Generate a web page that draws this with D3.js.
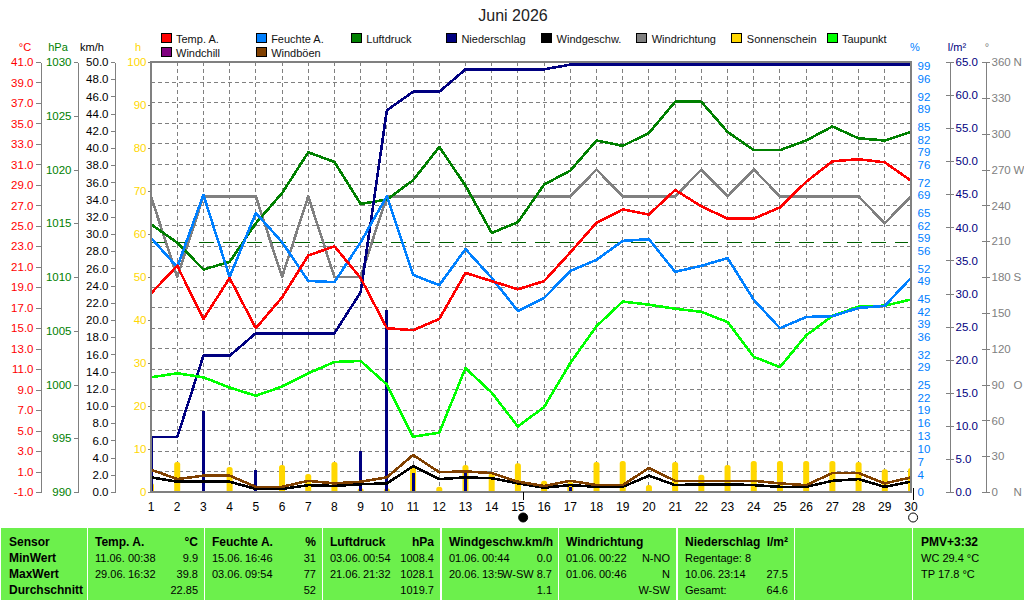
<!DOCTYPE html>
<html>
<head>
<meta charset="utf-8">
<title>Juni 2026</title>
<script src="https://cdn.jsdelivr.net/npm/d3@7"></script>
<style>
  body { margin: 0; background: #fff; }
  svg { display: block; }
  text { font-family: "Liberation Sans", Arial, sans-serif; font-size: 11px; white-space: pre; }
</style>
</head>
<body>
<script>
var w = 1024, h = 600;

// values, one per day
var days = d3.range(1, 31);
var temp = [18.4, 21.1, 15.9, 19.9, 15.0, 18.0, 22.1, 23.0, 19.9, 15.0, 14.8, 15.9, 20.4, 19.6, 18.8, 19.6, 22.4, 25.3, 26.6, 26.1, 28.5, 26.9, 25.7, 25.7, 26.8, 29.3, 31.3, 31.5, 31.2, 29.4];
var dewpoint = [10.2, 10.6, 10.2, 9.2, 8.4, 9.3, 10.6, 11.7, 11.8, 9.5, 4.4, 4.8, 11.1, 8.7, 5.4, 7.3, 11.6, 15.2, 17.6, 17.3, 16.9, 16.6, 15.6, 12.2, 11.2, 14.3, 16.2, 17.1, 17.2, 17.8];
var humidity = [59.1, 52.3, 69.1, 50.0, 64.9, 58.1, 49.1, 48.8, 58.1, 68.8, 50.5, 48.1, 56.5, 49.8, 42.1, 45.1, 51.4, 54.0, 58.4, 58.8, 51.2, 52.6, 54.4, 44.7, 38.1, 40.7, 40.9, 42.8, 43.3, 49.8];
var pressure = [1014.9, 1013.2, 1010.7, 1011.4, 1015.0, 1017.8, 1021.6, 1020.7, 1016.8, 1017.2, 1019.0, 1022.1, 1018.5, 1014.1, 1015.1, 1018.6, 1019.9, 1022.7, 1022.2, 1023.4, 1026.3, 1026.3, 1023.5, 1021.8, 1021.8, 1022.7, 1024.0, 1022.9, 1022.7, 1023.5];
var rainTotal = [8.3, 8.3, 20.6, 20.6, 24.0, 24.0, 24.0, 24.0, 30.2, 57.7, 60.5, 60.5, 63.9, 63.9, 63.9, 63.9, 64.6, 64.6, 64.6, 64.6, 64.6, 64.6, 64.6, 64.6, 64.6, 64.6, 64.6, 64.6, 64.6, 64.6];
var rainDay = [8.3, 0, 12.3, 0, 3.4, 0, 0, 0, 6.2, 27.5, 2.8, 0, 3.4, 0, 0, 0, 0.7, 0, 0, 0, 0, 0, 0, 0, 0, 0, 0, 0, 0, 0];
var wind = [1.7, 1.2, 1.2, 1.2, 0.35, 0.35, 0.8, 0.7, 0.9, 1.0, 3.0, 1.5, 1.7, 1.6, 1.0, 0.5, 0.8, 0.6, 0.6, 1.9, 0.8, 0.9, 0.9, 0.8, 0.6, 0.6, 1.3, 1.5, 0.6, 1.2];
var gust = [2.6, 1.5, 1.9, 1.9, 0.6, 0.6, 1.3, 1.0, 1.2, 1.7, 4.3, 2.3, 2.4, 2.2, 1.2, 0.7, 1.3, 0.8, 0.8, 2.8, 1.3, 1.3, 1.3, 1.3, 1.0, 0.8, 2.2, 2.2, 1.0, 1.7];
var direction = [247.5, 180, 247.5, 247.5, 247.5, 180, 247.5, 180, 180, 247.5, 247.5, 247.5, 247.5, 247.5, 247.5, 247.5, 247.5, 270, 247.5, 247.5, 247.5, 270, 247.5, 270, 247.5, 247.5, 247.5, 247.5, 225, 247.5];
var sun = [2.1, 7.0, 0, 5.8, 0, 6.3, 4.2, 7.0, 0.9, 0.9, 5.8, 1.2, 6.3, 4.4, 6.7, 2.6, 2.3, 7.0, 7.2, 1.6, 7.0, 4.0, 6.3, 7.2, 7.2, 7.2, 7.2, 7.0, 5.3, 5.6];
var normalPressure = 1013.25;
var moonDays = [15.2, 30.08];

// tick labels
var tempTicks = d3.range(-1, 42, 2);
var pressureTicks = [990, 995, 1000, 1005, 1010, 1015, 1020, 1025, 1030];
var windTicks = d3.range(0, 51, 2);
var sunTicks = d3.range(0, 101, 10);
var humidityTicks = [99, 96, 92, 89, 85, 82, 79, 76, 72, 69, 65, 62, 59, 56, 52, 49, 45, 42, 39, 36, 32, 29, 25, 22, 19, 16, 13, 10, 7, 4, 0];
var rainTicks = d3.range(0, 66, 5);
var dirTicks = d3.range(0, 361, 30);
var compass = { 360: "N", 270: "W", 180: "S", 90: "O", 0: "N" };

// legend
var legendNames = ["Temp. A.", "Feuchte A.", "Luftdruck", "Niederschlag", "Windgeschw.", "Windrichtung", "Sonnenschein", "Taupunkt", "Windchill", "Windböen"];
var legendColors = ["#ff0000", "#0080ff", "#008000", "#000080", "#000000", "#808080", "#ffd700", "#00ff00", "#800080", "#804000"];

// footer panels
var sensorRows = ["Sensor", "MinWert", "MaxWert", "Durchschnitt"];
var statTitles = ["Temp. A.", "Feuchte A.", "Luftdruck", "Windgeschw.km/h", "Windrichtung"];
var statUnits = ["°C", "%", "hPa", "", ""];
var statMin = [["11.06.", "00:38", "9.9"], ["15.06.", "16:46", "31"], ["03.06.", "00:54", "1008.4"], ["01.06.", "00:44", "0.0"], ["01.06.", "00:22", "N-NO"]];
var statMax = [["29.06.", "16:32", "39.8"], ["03.06.", "09:54", "77"], ["21.06.", "21:32", "1028.1"], ["20.06.", "13:5", "W-SW 8.7"], ["01.06.", "00:46", "N"]];
var statAvg = ["22.85", "52", "1019.7", "1.1", "W-SW"];

var left = 151, right = 911, top_ = 62, bottom = 492;

var svg = d3.select("body").append("svg").attr("width", w).attr("height", h);

var x = d3.scaleLinear().domain([1, 30]).range([left, right]);
function yScale(lo, hi) { return d3.scaleLinear().domain([lo, hi]).range([bottom, top_]); }
var yTemp = yScale(-1, 41), yPress = yScale(990, 1030), yWind = yScale(0, 50), yPct = yScale(0, 100), yRain = yScale(0, 65), yDir = yScale(0, 360);

svg.append("defs").append("clipPath").attr("id", "plot").append("rect")
    .attr("x", left).attr("y", top_).attr("width", right - left).attr("height", bottom - top_);

// title
svg.append("text").attr("x", 513).attr("y", 21).attr("text-anchor", "middle").style("font-size", "16px").attr("fill", "#222").text("Juni 2026");

// grid, one horizontal line per temperature tick
var grid = svg.append("g").attr("stroke", "#808080").attr("stroke-dasharray", "4,3").attr("shape-rendering", "crispEdges");
grid.selectAll("line.h").data(tempTicks).enter().append("line").attr("class", "h")
    .attr("x1", left).attr("x2", right)
    .attr("y1", function (d) { return yTemp(d); }).attr("y2", function (d) { return yTemp(d); });
grid.selectAll("line.v").data(days).enter().append("line").attr("class", "v")
    .attr("y1", top_).attr("y2", bottom)
    .attr("x1", function (d) { return x(d); }).attr("x2", function (d) { return x(d); });

var plot = svg.append("g").attr("clip-path", "url(#plot)");

plot.append("line").attr("x1", left).attr("x2", right - 3)
    .attr("y1", yPress(normalPressure)).attr("y2", yPress(normalPressure))
    .attr("stroke", "#006000").attr("stroke-dasharray", "15,9").attr("shape-rendering", "crispEdges");

// sunshine bars
plot.selectAll("rect.sun").data(sun).enter().append("rect").attr("class", "sun")
    .attr("x", function (d, i) { return x(days[i]) - 3; })
    .attr("y", function (d) { return yPct(d); })
    .attr("width", 6)
    .attr("height", function (d) { return d > 0 ? yPct(0) - yPct(d) + 4 : 0; })
    .attr("rx", 2.5)
    .attr("fill", "#ffd700");

// daily rain bars
plot.selectAll("rect.rain").data(rainDay).enter().append("rect").attr("class", "rain")
    .attr("x", function (d, i) { return x(days[i]) - 1.5; })
    .attr("y", function (d) { return yRain(d); })
    .attr("width", 3)
    .attr("height", function (d) { return yRain(0) - yRain(d); })
    .attr("fill", "#000080")
    .attr("shape-rendering", "crispEdges");

function drawLine(values, yS, color) {
    var line = d3.line().x(function (d, i) { return x(days[i]); }).y(function (d) { return yS(d); });
    plot.append("path").datum(values).attr("d", line)
        .attr("fill", "none").attr("stroke", color).attr("stroke-width", 2.6)
        .attr("stroke-linejoin", "round").attr("shape-rendering", "crispEdges");
}
drawLine(direction, yDir, "#808080");
drawLine(wind, yWind, "#000000");
drawLine(gust, yWind, "#804000");
drawLine(pressure, yPress, "#008000");
drawLine(rainTotal, yRain, "#000080");
drawLine(dewpoint, yTemp, "#00ff00");
drawLine(humidity, yPct, "#0080ff");
drawLine(temp, yTemp, "#ff0000");

// plot frame
svg.append("rect").attr("x", left).attr("y", top_).attr("width", right - left).attr("height", bottom - top_)
    .attr("fill", "none").attr("stroke", "#808080").attr("stroke-width", 2).attr("shape-rendering", "crispEdges");

function drawAxis(axis, xPos, color, lineColor) {
    var g = svg.append("g").attr("transform", "translate(" + xPos + ",0)").call(axis);
    g.selectAll("text").attr("fill", color).style("font-size", "11.5px");
    g.selectAll("line,path").attr("stroke", lineColor).attr("shape-rendering", "crispEdges");
    return g;
}
// plain hyphen on negative labels, like the original
var f1 = function (d) { return d.toFixed(1); };
drawAxis(d3.axisLeft(yTemp).tickValues(tempTicks).tickFormat(f1).tickSize(5).tickSizeOuter(0).tickPadding(2), 40.5, "#ff0000", "#808080");
drawAxis(d3.axisLeft(yPress).tickValues(pressureTicks).tickFormat(d3.format("d")).tickSize(4).tickSizeOuter(0).tickPadding(2), 77.5, "#008000", "#808080");
drawAxis(d3.axisLeft(yWind).tickValues(windTicks).tickFormat(f1).tickSize(4).tickSizeOuter(0).tickPadding(2), 114.5, "#000000", "#808080");

var sunAxis = drawAxis(d3.axisLeft(yPct).tickValues(sunTicks).tickFormat(d3.format("d")).tickSize(3).tickSizeOuter(0).tickPadding(1), 150.5, "#ffd700", "#808080");
sunAxis.select("path").remove();

var pctAxis = drawAxis(d3.axisRight(yPct).tickValues(humidityTicks).tickFormat(d3.format("d")).tickSize(0).tickPadding(6), 911.5, "#0080ff", "#808080");
pctAxis.select("path").remove();

var rainAxis = drawAxis(d3.axisRight(yRain).tickValues(rainTicks).tickFormat(f1).tickSize(4).tickSizeOuter(0).tickPadding(2), 949.5, "#000080", "#808080");
rainAxis.selectAll(".tick line").attr("x1", -4);

var dirAxis = drawAxis(d3.axisRight(yDir).tickValues(dirTicks).tickFormat(d3.format("d")).tickSize(4).tickSizeOuter(0).tickPadding(2), 985.5, "#808080", "#808080");
dirAxis.selectAll(".tick line").attr("x1", -4);
dirAxis.selectAll(".tick").filter(function (d) { return compass[d]; }).append("text")
    .attr("x", 28).attr("dy", "0.32em").attr("fill", "#808080").style("font-size", "11.5px")
    .text(function (d) { return compass[d]; });

// unit labels above the axes
var unitLabels = [["°C", 25, "#ff0000"], ["hPa", 58, "#008000"], ["km/h", 92, "#000000"], ["h", 138, "#ffd700"], ["%", 915, "#0080ff"], ["l/m²", 957, "#000080"], ["°", 987, "#808080"]];
svg.selectAll("text.unit").data(unitLabels).enter().append("text").attr("class", "unit")
    .attr("x", function (d) { return d[1]; }).attr("y", 51).attr("text-anchor", "middle")
    .attr("fill", function (d) { return d[2]; })
    .text(function (d) { return d[0]; });

// day labels
svg.selectAll("text.day").data(days).enter().append("text").attr("class", "day")
    .attr("x", function (d) { return x(d); }).attr("y", 511).attr("text-anchor", "middle")
    .style("font-size", "12px").text(function (d) { return d; });

// moon phases
svg.selectAll("line.moon").data(moonDays).enter().append("line").attr("class", "moon")
    .attr("x1", function (d) { return x(d); }).attr("x2", function (d) { return x(d); })
    .attr("y1", function (d, i) { return i ? 488 : 492; }).attr("y2", 500)
    .attr("stroke", "#000").attr("shape-rendering", "crispEdges");
svg.selectAll("circle.moon").data(moonDays).enter().append("circle").attr("class", "moon")
    .attr("cx", function (d) { return x(d); }).attr("cy", 517.5).attr("r", 4.5)
    .attr("fill", function (d, i) { return i ? "#fff" : "#000"; })
    .attr("stroke", "#000");

// legend
var legendX = d3.scalePoint().domain(d3.range(8)).range([161, 827]);
var legend = svg.selectAll("g.legend").data(legendNames).enter().append("g").attr("class", "legend")
    .attr("transform", function (d, i) { return "translate(" + legendX(i < 8 ? i : i - 8) + "," + (i < 8 ? 33.5 : 47.5) + ")"; });
legend.append("rect").attr("width", 10).attr("height", 9)
    .attr("fill", function (d, i) { return legendColors[i]; })
    .attr("stroke", "#000").attr("shape-rendering", "crispEdges");
legend.append("text").attr("x", 15).attr("y", 9).attr("fill", "#111").text(function (d) { return d; });

// footer
var panelEdges = [[1, 87], [88, 204], [205, 322], [323, 440], [442, 558], [559, 676], [678, 794], [795, 912], [913, 1024]];
var rowY = [546, 562, 578, 594];

svg.selectAll("rect.panel").data(panelEdges).enter().append("rect").attr("class", "panel")
    .attr("x", function (d) { return d[0]; }).attr("y", 528)
    .attr("width", function (d) { return d[1] - d[0]; }).attr("height", 72)
    .attr("fill", "#6cf04c");

function label(px, row, str, bold, anchor) {
    svg.append("text").attr("x", px).attr("y", rowY[row])
        .attr("text-anchor", anchor || "start")
        .attr("font-weight", bold ? "bold" : null)
        .style("font-size", bold ? "12px" : "11px")
        .attr("fill", "#000").text(str);
}

sensorRows.forEach(function (s, i) { label(9, i, s, true); });

statTitles.forEach(function (title, i) {
    var px = panelEdges[i + 1][0] + 7, end = panelEdges[i + 1][1] - 6;
    label(px, 0, title, true);
    if (statUnits[i]) label(end, 0, statUnits[i], true, "end");
    [statMin[i], statMax[i]].forEach(function (r, j) {
        label(px, j + 1, r[0]);
        label(px + 33, j + 1, r[1]);
        label(end, j + 1, r[2], false, "end");
    });
    label(end, 3, statAvg[i], false, "end");
});

label(685, 0, "Niederschlag", true);
label(788, 0, "l/m²", true, "end");
label(685, 1, "Regentage: 8");
label(685, 2, "10.06.");
label(718, 2, "23:14");
label(788, 2, "27.5", false, "end");
label(685, 3, "Gesamt:");
label(788, 3, "64.6", false, "end");

label(921, 0, "PMV+3:32", true);
label(921, 1, "WC 29.4 °C");
label(921, 2, "TP 17.8 °C");
</script>
</body>
</html>
